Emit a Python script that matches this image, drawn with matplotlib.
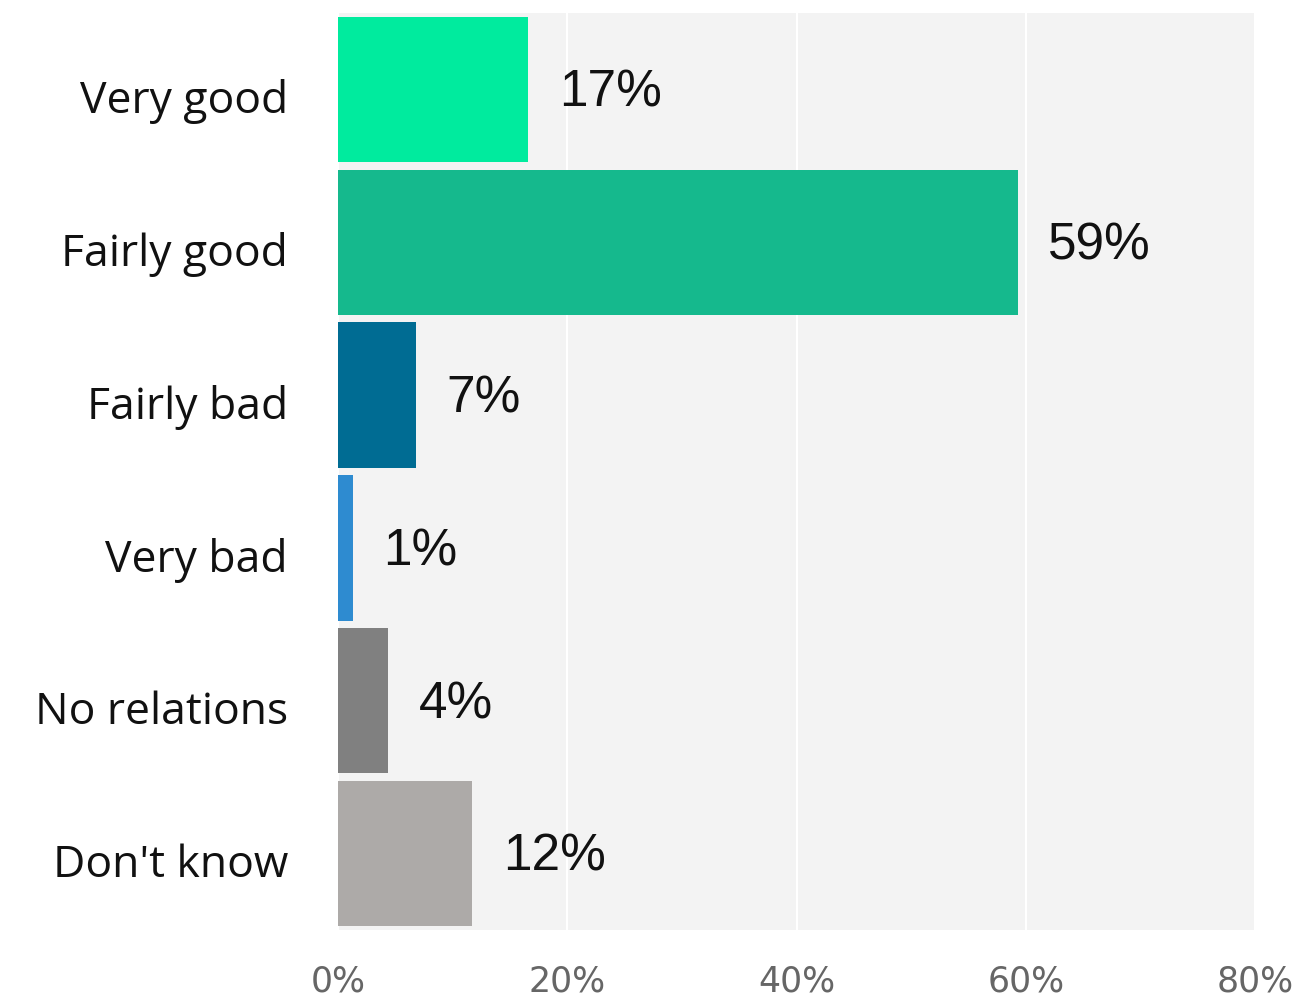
import matplotlib.pyplot as plt
import matplotlib.transforms as mtransforms

categories = ['Very good', 'Fairly good', 'Fairly bad', 'Very bad', 'No relations', "Don't know"]
values = [16.6, 59.3, 6.8, 1.3, 4.4, 11.7]
value_labels = ['17%', '59%', '7%', '1%', '4%', '12%']
colors = ['#00EB9E', '#15B98D', '#006C93', '#2E8BD0', '#808080', '#ADAAA8']
ticks = [0, 20, 40, 60, 80]
tick_labels = ['0%', '20%', '40%', '60%', '80%']

fig = plt.figure(figsize=(13.11, 10.03), dpi=100)
ax = fig.add_axes([338 / 1311, 72 / 1003, 917 / 1311, 917 / 1003])
ax.set_facecolor('#F3F3F3')

y = list(range(len(categories)))
ax.barh(y, values, height=0.95, color=colors, zorder=2)
for yi, v, lab in zip(y, values, value_labels):
    ax.annotate(lab, (v, yi), xytext=(22, -2), textcoords='offset points',
                va='center', ha='left', fontsize=37, family='Liberation Sans', color='#111111')

ax.set_xlim(0, 80)
ax.set_ylim(len(categories) - 0.5, -0.5)
ax.set_xticks(ticks)
ax.set_xticklabels(tick_labels, family='Liberation Sans Narrow', fontsize=25, color='#666666')
ax.set_yticks(y)
ax.set_yticklabels(categories, family='Open Sans', fontsize=32, color='#111111')
ax.tick_params(length=0)
ax.tick_params(axis='x', pad=24)
ax.tick_params(axis='y', pad=36)
# nudge category labels slightly down
shift = mtransforms.ScaledTranslation(0, -6 / 100, fig.dpi_scale_trans)
for t in ax.get_yticklabels():
    t.set_transform(t.get_transform() + shift)
ax.grid(axis='x', color='white', linewidth=1.5, zorder=1)
for s in ax.spines.values():
    s.set_visible(False)

fig.savefig('out.png', dpi=100)
